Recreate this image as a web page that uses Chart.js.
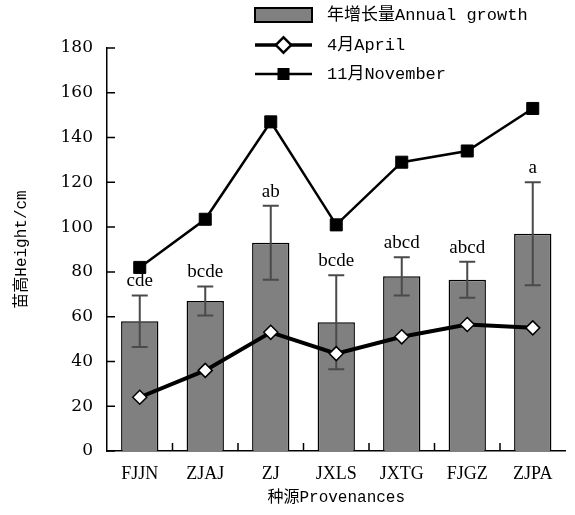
<!DOCTYPE html>
<html>
<head>
<meta charset="utf-8">
<script src="https://cdn.jsdelivr.net/npm/chart.js@4.4.1/dist/chart.umd.min.js"></script>
<style>
  body { margin: 0; background: #fff; }
  #wrap { width: 575px; height: 515px; }
</style>
</head>
<body>
<div id="wrap"><canvas id="chart"></canvas></div>
<script>
const provenances = ["FJJN", "ZJAJ", "ZJ", "JXLS", "JXTG", "FJGZ", "ZJPA"];
const annualGrowth = [58, 67, 93, 57.5, 78, 76.5, 97];
const growthError = [11.5, 6.5, 16.5, 21, 8.5, 8, 23];
const aprilHeight = [24, 36, 53, 43.5, 51, 56.5, 55];
const novemberHeight = [82, 103.5, 147, 101, 129, 134, 153];
const letters = ["cde", "bcde", "ab", "bcde", "abcd", "abcd", "a"];
const legendLabels = ["年增长量Annual growth", "4月April", "11月November"];

const monoCjk = "'Liberation Mono', 'Noto Sans CJK SC'";

// error bars, letters, inward ticks and the legend
const extras = {
  id: "extras",
  afterDatasetDraw(chart, args) {
    if (args.index !== 0) return;
    const ctx = chart.ctx, x = chart.scales.x, y = chart.scales.y;
    ctx.save();
    annualGrowth.forEach((v, i) => {
      const px = x.getPixelForValue(i);
      const top = y.getPixelForValue(v + growthError[i]);
      const bot = y.getPixelForValue(v - growthError[i]);
      ctx.strokeStyle = "#4a4a4a";
      ctx.lineWidth = 2;
      ctx.beginPath();
      ctx.moveTo(px, top); ctx.lineTo(px, bot);
      ctx.moveTo(px - 8, top); ctx.lineTo(px + 8, top);
      ctx.moveTo(px - 8, bot); ctx.lineTo(px + 8, bot);
      ctx.stroke();
      ctx.fillStyle = "#000";
      ctx.font = "19px 'Liberation Serif'";
      ctx.textAlign = "center";
      ctx.textBaseline = "alphabetic";
      ctx.fillText(letters[i], px, top - 9);
    });
    ctx.restore();
  },
  afterDraw(chart) {
    const ctx = chart.ctx, x = chart.scales.x, y = chart.scales.y;
    const area = chart.chartArea;
    ctx.save();
    ctx.strokeStyle = "#000";
    ctx.lineWidth = 1.5;
    ctx.beginPath();
    y.ticks.forEach(t => {
      const py = y.getPixelForValue(t.value);
      ctx.moveTo(area.left, py); ctx.lineTo(area.left + 8, py);
    });
    for (let i = 0; i < provenances.length - 1; i++) {
      const px = (x.getPixelForValue(i) + x.getPixelForValue(i + 1)) / 2;
      ctx.moveTo(px, area.bottom); ctx.lineTo(px, area.bottom - 8);
    }
    ctx.stroke();

    // legend
    const lx = 255, lw = 57, tx = 327, rows = [15, 45, 74];
    ctx.fillStyle = "#808080";
    ctx.fillRect(lx, rows[0] - 7, lw, 14);
    ctx.lineWidth = 2;
    ctx.strokeRect(lx, rows[0] - 7, lw, 14);

    ctx.lineWidth = 3.5;
    ctx.beginPath(); ctx.moveTo(lx, rows[1]); ctx.lineTo(lx + lw, rows[1]); ctx.stroke();
    Chart.helpers.drawPoint(ctx, { pointStyle: "rectRot", radius: 7, borderWidth: 1.5 }, lx + lw / 2, rows[1]);
    ctx.fillStyle = "#fff"; ctx.strokeStyle = "#000"; ctx.lineWidth = 1.5;
    ctx.fill(); ctx.stroke();

    ctx.lineWidth = 2.5;
    ctx.beginPath(); ctx.moveTo(lx, rows[2]); ctx.lineTo(lx + lw, rows[2]); ctx.stroke();
    ctx.fillStyle = "#000";
    ctx.fillRect(lx + lw / 2 - 6, rows[2] - 6, 12, 12);

    ctx.font = "17px " + monoCjk;
    ctx.textAlign = "left";
    ctx.textBaseline = "middle";
    legendLabels.forEach((s, i) => ctx.fillText(s, tx, rows[i]));
    ctx.restore();
  }
};

new Chart(document.getElementById("chart"), {
  type: "bar",
  data: {
    labels: provenances,
    datasets: [
      {
        label: legendLabels[0],
        data: annualGrowth,
        backgroundColor: "#808080",
        borderColor: "#000",
        borderWidth: 1.5,
        barPercentage: 0.57,
        categoryPercentage: 1,
        order: 3
      },
      {
        type: "line",
        label: legendLabels[1],
        data: aprilHeight,
        borderColor: "#000",
        borderWidth: 4,
        pointStyle: "rectRot",
        pointRadius: 7,
        pointBackgroundColor: "#fff",
        pointBorderColor: "#000",
        pointBorderWidth: 1.5,
        tension: 0,
        order: 1
      },
      {
        type: "line",
        label: legendLabels[2],
        data: novemberHeight,
        borderColor: "#000",
        borderWidth: 2.5,
        pointStyle: "rect",
        pointRadius: 8.5,
        pointBackgroundColor: "#000",
        pointBorderColor: "#000",
        pointBorderWidth: 1,
        tension: 0,
        order: 2
      }
    ]
  },
  options: {
    responsive: true,
    maintainAspectRatio: false,
    animation: false,
    layout: { padding: { top: 48, right: 0, left: 0, bottom: 0 } },
    plugins: { legend: { display: false }, tooltip: { enabled: false } },
    scales: {
      x: {
        grid: { display: false, drawTicks: false },
        border: { color: "#000", width: 1.5 },
        ticks: { color: "#000", font: { family: "'Liberation Serif'", size: 18 }, padding: 12 },
        title: {
          display: true,
          text: "种源Provenances",
          color: "#000",
          font: { family: monoCjk, size: 16 },
          padding: { top: 4, bottom: 8 }
        },
        afterFit(s) { s.height = 64; }
      },
      y: {
        min: 0,
        max: 180,
        grid: { display: false, drawTicks: false },
        border: { color: "#000", width: 1.5 },
        ticks: { stepSize: 20, color: "#000", font: { family: "'DejaVu Serif'", size: 17 }, padding: 14 },
        title: {
          display: true,
          text: "苗高Height/cm",
          color: "#000",
          font: { family: monoCjk, size: 16 },
          padding: { top: 12, bottom: 0 }
        },
        afterFit(s) { s.width = 107; }
      }
    }
  },
  plugins: [extras]
});
</script>
</body>
</html>
